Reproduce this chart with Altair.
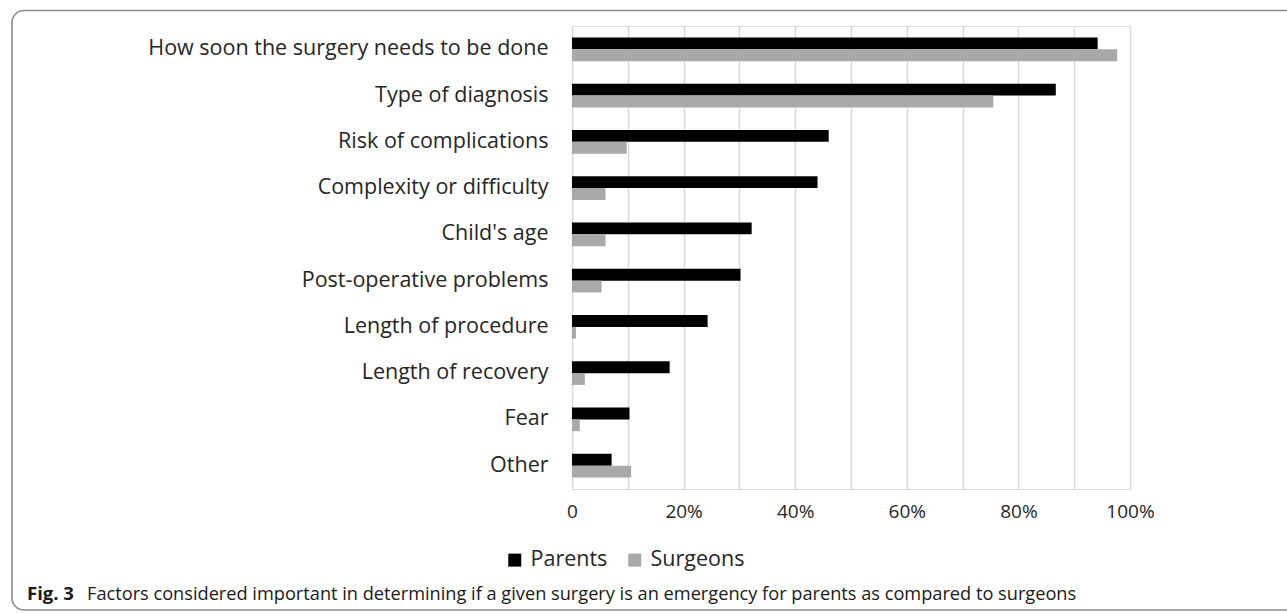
import altair as alt
import pandas as pd

categories = [
    "How soon the surgery needs to be done",
    "Type of diagnosis",
    "Risk of complications",
    "Complexity or difficulty",
    "Child's age",
    "Post-operative problems",
    "Length of procedure",
    "Length of recovery",
    "Fear",
    "Other",
]
parents = [94.2, 86.7, 46.0, 44.0, 32.2, 30.2, 24.3, 17.5, 10.3, 7.1]
surgeons = [97.7, 75.5, 9.8, 6.0, 6.0, 5.3, 0.7, 2.3, 1.4, 10.6]
groups = ["Parents", "Surgeons"]
colors = ["#000000", "#a9a9a9"]
x_ticks = [0, 10, 20, 30, 40, 50, 60, 70, 80, 90, 100]

fig_label = "Fig. 3"
caption = ("Factors considered important in determining if a given surgery is an "
           "emergency for parents as compared to surgeons")

rows = []
for cat, p, s in zip(categories, parents, surgeons):
    rows.append({"factor": cat, "group": "Parents", "pct": p})
    rows.append({"factor": cat, "group": "Surgeons", "pct": s})
df = pd.DataFrame(rows)

FONT = "Open Sans"
TEXT = "#262626"

bars = alt.Chart(df).mark_bar(strokeWidth=0).encode(
    x=alt.X(
        "pct:Q",
        scale=alt.Scale(domain=[0, 100], nice=False),
        axis=alt.Axis(
            title=None,
            values=x_ticks,
            labelExpr="datum.value == 0 ? '0' : (datum.value % 20 == 0 ? datum.value + '%' : '')",
            labelFlush=False,
            domain=False,
            ticks=False,
            grid=True,
            gridColor="#d9d9d9",
            gridWidth=1.5,
            labelFont=FONT,
            labelFontSize=19,
            labelColor=TEXT,
            labelPadding=13,
        ),
    ),
    y=alt.Y(
        "factor:N",
        sort=categories,
        scale=alt.Scale(paddingInner=0.49, paddingOuter=0.25),
        axis=alt.Axis(
            title=None,
            domain=False,
            ticks=False,
            labelFont=FONT,
            labelFontSize=21.5,
            labelColor=TEXT,
            labelPadding=24,
            labelLimit=600,
        ),
    ),
    yOffset=alt.YOffset("group:N", sort=groups),
    color=alt.Color(
        "group:N",
        scale=alt.Scale(domain=groups, range=colors),
        legend=alt.Legend(
            title=None,
            orient="none",
            direction="horizontal",
            legendX=-68,
            legendY=523,
            symbolType="square",
            symbolSize=169,
            symbolStrokeWidth=0,
            labelFont=FONT,
            labelFontSize=21.5,
            labelColor=TEXT,
            columnPadding=16,
            labelOffset=5,
        ),
    ),
)

one = alt.Data(values=[{"k": 1}])

frame = alt.Chart(one).mark_rect(
    fill="transparent", stroke="#8c8c8c", strokeWidth=1.6, cornerRadius=12
).encode(
    x=alt.value(-560), x2=alt.value(740), y=alt.value(-15.5), y2=alt.value(584)
)

fig_text = alt.Chart(one).mark_text(
    text=fig_label, align="left", baseline="alphabetic",
    font=FONT, fontSize=18.5, fontWeight="bold", color="#1a1a1a"
).encode(x=alt.value(-545), y=alt.value(574))

cap_text = alt.Chart(one).mark_text(
    text=caption, align="left", baseline="alphabetic",
    font=FONT, fontSize=18.2, color="#1a1a1a"
).encode(x=alt.value(-485), y=alt.value(574))

chart = alt.layer(frame, bars, fig_text, cap_text).properties(
    width=558,
    height=463,
    padding={"left": 572, "top": 26, "right": 157, "bottom": 124},
    autosize=alt.AutoSizeParams(type="none"),
).configure_view(strokeWidth=0).configure(background="white")

chart.save("out.html", embed_options={"renderer": "svg", "actions": False})
